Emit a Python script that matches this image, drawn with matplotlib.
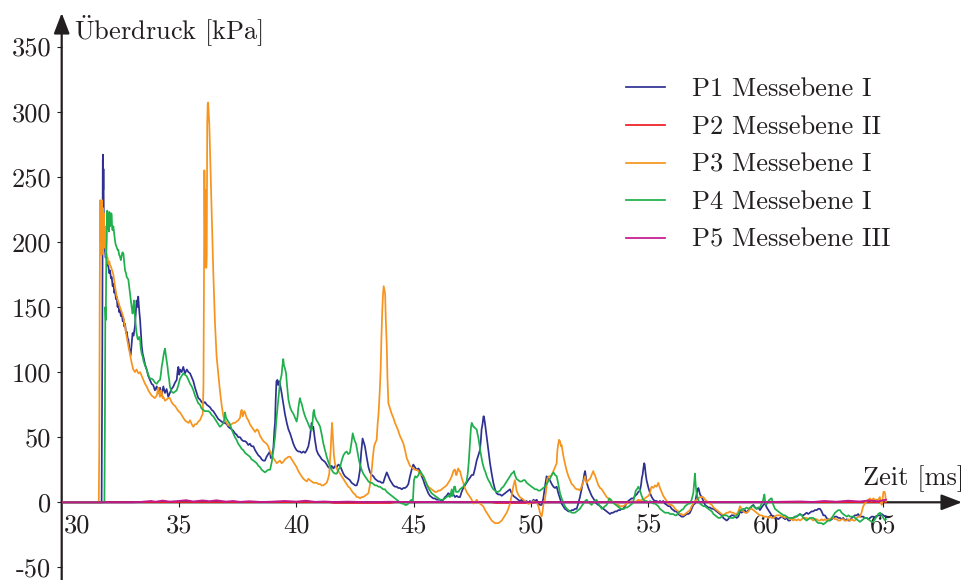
import matplotlib
matplotlib.use("Agg")
import matplotlib.pyplot as plt
from matplotlib.lines import Line2D

plt.rcParams["font.family"] = ["cmr10"]
plt.rcParams["mathtext.fontset"] = "cm"
plt.rcParams["axes.unicode_minus"] = False
plt.rcParams["axes.formatter.use_mathtext"] = True

# ---------------------------------------------------------------- data
# (time in ms, overpressure in kPa)
p1_blue = [
    (30.00, 0), (31.70, 0), (31.73, 120), (31.75, 262), (31.76, 267), (31.77, 240), (31.78, 256),
    (31.80, 205), (31.82, 196), (31.84, 194), (31.87, 188), (31.90, 191), (31.94, 183), (31.99, 181),
    (32.03, 176), (32.06, 178), (32.10, 172), (32.13, 173), (32.17, 166), (32.20, 168), (32.24, 161),
    (32.27, 163), (32.31, 156), (32.34, 158), (32.38, 150), (32.41, 153), (32.45, 146), (32.48, 148),
    (32.52, 143), (32.56, 145), (32.60, 139), (32.63, 141), (32.67, 135), (32.70, 137), (32.74, 130),
    (32.77, 131), (32.81, 126), (32.84, 125), (32.88, 118), (32.94, 113), (32.98, 122), (33.02, 130),
    (33.06, 128), (33.12, 135), (33.16, 146), (33.19, 155), (33.23, 150), (33.26, 158), (33.30, 148),
    (33.34, 140), (33.38, 128), (33.41, 120), (33.45, 114), (33.48, 112), (33.55, 106), (33.62, 102),
    (33.69, 97), (33.76, 94), (33.83, 91), (33.90, 90), (33.97, 86), (34.05, 89), (34.12, 84),
    (34.19, 88), (34.26, 82), (34.33, 89), (34.40, 84), (34.47, 87), (34.54, 81), (34.61, 84),
    (34.68, 87), (34.76, 89), (34.83, 92), (34.90, 94), (34.94, 101), (34.97, 104), (35.01, 98),
    (35.04, 102), (35.11, 100), (35.18, 104), (35.25, 99), (35.33, 102), (35.40, 100), (35.47, 99),
    (35.54, 96), (35.61, 93), (35.68, 88), (35.75, 84), (35.82, 80), (35.89, 79), (35.96, 77),
    (36.03, 76), (36.10, 77), (36.18, 75), (36.25, 74), (36.32, 73), (36.39, 71), (36.46, 70),
    (36.53, 68), (36.60, 66), (36.67, 64), (36.74, 63), (36.81, 62), (36.89, 61), (36.96, 61),
    (37.03, 60), (37.10, 58), (37.17, 57), (37.24, 56), (37.31, 55), (37.38, 53), (37.45, 52),
    (37.52, 50), (37.60, 50), (37.67, 48), (37.74, 47), (37.81, 47), (37.88, 46), (37.95, 44),
    (38.02, 45), (38.09, 43), (38.17, 43), (38.24, 40), (38.31, 38), (38.38, 36), (38.45, 35),
    (38.52, 33), (38.59, 32), (38.66, 32), (38.73, 35), (38.80, 37), (38.87, 39), (38.91, 34),
    (38.95, 35), (39.02, 42), (39.06, 55), (39.09, 61), (39.12, 80), (39.15, 93), (39.19, 94),
    (39.23, 90), (39.27, 93), (39.30, 91), (39.37, 84), (39.44, 76), (39.51, 68), (39.59, 61),
    (39.66, 56), (39.73, 53), (39.80, 49), (39.87, 45), (39.94, 42), (40.01, 40), (40.08, 39),
    (40.15, 39), (40.22, 38), (40.30, 39), (40.37, 38), (40.44, 40), (40.51, 43), (40.58, 50),
    (40.62, 57), (40.65, 61), (40.69, 57), (40.72, 58), (40.79, 48), (40.86, 40), (40.93, 37),
    (41.01, 35), (41.08, 33), (41.15, 32), (41.22, 31), (41.29, 29), (41.36, 27), (41.43, 26),
    (41.50, 28), (41.58, 26), (41.65, 28), (41.72, 27), (41.79, 29), (41.86, 28), (41.93, 25),
    (42.00, 22), (42.07, 20), (42.14, 19), (42.21, 18), (42.28, 17), (42.35, 15), (42.43, 14),
    (42.50, 13), (42.57, 13), (42.64, 17), (42.71, 25), (42.76, 38), (42.82, 49), (42.87, 46),
    (42.92, 43), (43.00, 34), (43.07, 27), (43.14, 23), (43.21, 21), (43.28, 20), (43.35, 18),
    (43.42, 17), (43.49, 16), (43.56, 16), (43.63, 15), (43.70, 15), (43.77, 19), (43.85, 23),
    (43.92, 20), (43.99, 17), (44.06, 15), (44.13, 13), (44.20, 12), (44.27, 12), (44.34, 11),
    (44.41, 11), (44.49, 10), (44.56, 11), (44.63, 11), (44.70, 12), (44.77, 14), (44.84, 20),
    (44.91, 25), (44.98, 29), (45.05, 27), (45.12, 25), (45.20, 26), (45.27, 24), (45.34, 20),
    (45.41, 17), (45.48, 13), (45.55, 10), (45.62, 7), (45.69, 5), (45.76, 4), (45.83, 3),
    (45.90, 3), (45.98, 2), (46.05, 2), (46.12, 2), (46.19, 1), (46.26, 2), (46.33, 4), (46.40, 5),
    (46.47, 7), (46.54, 6), (46.62, 5), (46.69, 6), (46.76, 4), (46.83, 5), (46.90, 4), (46.97, 4),
    (47.04, 8), (47.11, 11), (47.18, 13), (47.25, 15), (47.32, 17), (47.40, 19), (47.47, 21),
    (47.54, 21), (47.61, 26), (47.68, 32), (47.75, 36), (47.82, 40), (47.86, 48), (47.89, 56),
    (47.93, 60), (47.97, 66), (47.99, 66), (48.04, 60), (48.11, 50), (48.18, 40), (48.25, 30),
    (48.32, 22), (48.39, 15), (48.46, 10), (48.53, 7), (48.60, 6), (48.68, 6), (48.75, 5),
    (48.82, 6), (48.89, 7), (48.96, 8), (49.03, 9), (49.10, 10), (49.17, 7), (49.24, 5), (49.31, 4),
    (49.38, 3), (49.45, 2), (49.52, 1), (49.60, 2), (49.67, 1), (49.74, 0), (49.81, 1), (49.88, -1),
    (49.95, 1), (50.02, 0), (50.10, 2), (50.17, 1), (50.24, 2), (50.31, -1), (50.38, -2),
    (50.45, -2), (50.52, 3), (50.59, 12), (50.66, 20), (50.73, 18), (50.80, 17), (50.88, 14),
    (50.95, 12), (51.02, 11), (51.09, 12), (51.16, 7), (51.23, 3), (51.30, -1), (51.37, -3),
    (51.44, -5), (51.52, -6), (51.59, -7), (51.66, -7), (51.73, -6), (51.80, -6), (51.87, -5),
    (51.94, -5), (52.01, -1), (52.08, 4), (52.15, 10), (52.20, 15), (52.23, 17), (52.27, 22),
    (52.30, 24), (52.34, 19), (52.37, 15), (52.44, 11), (52.51, 8), (52.58, 5), (52.65, 3),
    (52.72, 1), (52.79, -1), (52.86, -2), (52.94, -3), (53.01, -4), (53.08, -5), (53.15, -6),
    (53.22, -7), (53.29, -8), (53.36, -9), (53.43, -8), (53.50, -8), (53.57, -7), (53.65, -7),
    (53.72, -6), (53.79, -6), (53.86, -5), (53.93, -5), (54.00, -3), (54.07, -1), (54.14, 1),
    (54.21, 2), (54.28, 3), (54.36, 3), (54.43, 5), (54.50, 6), (54.57, 8), (54.64, 9), (54.69, 14),
    (54.72, 19), (54.75, 21), (54.79, 27), (54.82, 30), (54.84, 29), (54.88, 22), (54.92, 17),
    (55.00, 11), (55.07, 7), (55.14, 4), (55.21, 2), (55.28, 1), (55.35, 1), (55.42, 0), (55.49, 1),
    (55.56, 0), (55.63, 1), (55.70, -1), (55.78, -2), (55.85, -3), (55.92, -3), (55.99, -5),
    (56.06, -6), (56.13, -7), (56.20, -7), (56.27, -9), (56.34, -10), (56.41, -11), (56.49, -11),
    (56.56, -10), (56.63, -9), (56.70, -9), (56.77, -8), (56.84, -5), (56.91, -2), (56.98, -1),
    (57.02, 3), (57.06, 7), (57.10, 10), (57.13, 11), (57.17, 8), (57.20, 6), (57.27, 4), (57.34, 1),
    (57.41, -2), (57.48, -3), (57.55, -4), (57.62, -4), (57.70, -5), (57.77, -5), (57.84, -6),
    (57.91, -7), (57.98, -8), (58.05, -9), (58.12, -10), (58.19, -12), (58.26, -13), (58.33, -14),
    (58.40, -13), (58.47, -11), (58.55, -10), (58.62, -10), (58.69, -11), (58.76, -12), (58.83, -11),
    (58.90, -7), (58.97, -8), (59.04, -7), (59.11, -6), (59.19, -8), (59.26, -6), (59.33, -5),
    (59.40, -3), (59.47, -2), (59.54, -4), (59.61, -5), (59.68, -4), (59.75, -6), (59.82, -4),
    (59.90, -2), (59.97, -1), (60.04, -4), (60.11, -6), (60.18, -8), (60.25, -10), (60.32, -11),
    (60.39, -12), (60.46, -12), (60.53, -13), (60.60, -12), (60.68, -11), (60.75, -12), (60.82, -13),
    (60.89, -12), (60.96, -14), (61.03, -14), (61.10, -12), (61.17, -12), (61.24, -11), (61.31, -11),
    (61.38, -10), (61.46, -9), (61.53, -10), (61.60, -10), (61.67, -9), (61.74, -8), (61.81, -9),
    (61.88, -8), (61.95, -7), (62.02, -7), (62.09, -6), (62.17, -6), (62.24, -5), (62.31, -5),
    (62.38, -7), (62.45, -10), (62.52, -10), (62.59, -12), (62.66, -13), (62.73, -14), (62.81, -13),
    (62.88, -12), (62.95, -11), (63.02, -11), (63.09, -12), (63.16, -12), (63.23, -13), (63.30, -12),
    (63.37, -14), (63.45, -13), (63.52, -14), (63.59, -14), (63.66, -12), (63.73, -11), (63.80, -10),
    (63.87, -10), (63.94, -9), (64.01, -11), (64.08, -11), (64.15, -11), (64.22, -12), (64.30, -12),
    (64.37, -13), (64.44, -12), (64.51, -11), (64.58, -11), (64.65, -12), (64.72, -11), (64.79, -10),
    (64.87, -10), (64.94, -9), (65.01, -10), (65.10, -11),
]

p2_red = [(30.00, 0.0), (41.4, 0.0), (41.6, -0.6), (44.0, -0.6), (44.2, 0.0), (48.3, 0.0),
          (48.5, -0.6), (50.0, -0.6), (50.2, 0.0), (65.12, 0.0)]

p3_orange = [
    (30.00, 0), (31.58, 0), (31.60, 40), (31.62, 160), (31.64, 232), (31.66, 200), (31.68, 230),
    (31.70, 190), (31.72, 232), (31.74, 205), (31.76, 226), (31.78, 195), (31.80, 222), (31.82, 196),
    (31.84, 212), (31.86, 200), (31.89, 190), (31.92, 186), (31.95, 188), (31.99, 183), (32.03, 185),
    (32.06, 182), (32.10, 181), (32.13, 179), (32.17, 177), (32.20, 175), (32.27, 166), (32.34, 158),
    (32.41, 154), (32.48, 150), (32.56, 146), (32.63, 142), (32.70, 135), (32.77, 127), (32.84, 120),
    (32.91, 114), (32.98, 107), (33.05, 102), (33.12, 100), (33.19, 102), (33.27, 99), (33.34, 100),
    (33.41, 97), (33.48, 94), (33.55, 91), (33.62, 89), (33.69, 86), (33.76, 84), (33.83, 82),
    (33.90, 81), (33.97, 80), (34.05, 82), (34.09, 86), (34.12, 88), (34.16, 83), (34.19, 81),
    (34.23, 86), (34.26, 85), (34.30, 80), (34.33, 81), (34.40, 78), (34.47, 79), (34.54, 80),
    (34.61, 80), (34.68, 77), (34.76, 75), (34.83, 74), (34.90, 72), (34.97, 70), (35.04, 69),
    (35.11, 67), (35.18, 65), (35.25, 63), (35.32, 62), (35.40, 61), (35.47, 63), (35.54, 60),
    (35.61, 58), (35.68, 60), (35.75, 60), (35.82, 62), (35.89, 63), (35.96, 66), (36.01, 68),
    (36.04, 90), (36.06, 163), (36.08, 255), (36.10, 200), (36.11, 181), (36.13, 240), (36.15, 200),
    (36.16, 180), (36.18, 190), (36.20, 290), (36.22, 306), (36.24, 307), (36.26, 300), (36.29, 290),
    (36.32, 270), (36.35, 252), (36.40, 214), (36.46, 176), (36.53, 138), (36.60, 112), (36.67, 99),
    (36.74, 86), (36.82, 74), (36.89, 66), (36.96, 63), (37.03, 61), (37.10, 59), (37.17, 59),
    (37.24, 60), (37.31, 61), (37.38, 61), (37.45, 62), (37.52, 63), (37.60, 65), (37.64, 70),
    (37.67, 71), (37.71, 66), (37.74, 68), (37.78, 70), (37.81, 69), (37.88, 65), (37.95, 63),
    (38.02, 60), (38.09, 58), (38.17, 56), (38.24, 54), (38.31, 56), (38.38, 55), (38.45, 51),
    (38.52, 49), (38.59, 47), (38.66, 46), (38.73, 45), (38.80, 43), (38.88, 39), (38.95, 36),
    (39.02, 34), (39.09, 32), (39.16, 30), (39.23, 31), (39.30, 32), (39.37, 30), (39.44, 31),
    (39.51, 33), (39.59, 34), (39.66, 35), (39.73, 35), (39.80, 33), (39.87, 31), (39.94, 29),
    (40.01, 27), (40.08, 24), (40.15, 22), (40.22, 20), (40.30, 18), (40.37, 17), (40.44, 16),
    (40.51, 18), (40.58, 17), (40.65, 16), (40.72, 15), (40.79, 15), (40.86, 15), (40.93, 14),
    (41.01, 14), (41.08, 13), (41.15, 13), (41.22, 14), (41.29, 15), (41.35, 18), (41.40, 22),
    (41.43, 32), (41.46, 40), (41.49, 52), (41.52, 61), (41.55, 52), (41.57, 45), (41.60, 36),
    (41.64, 30), (41.71, 26), (41.79, 24), (41.86, 22), (41.93, 20), (42.00, 18), (42.07, 16),
    (42.14, 14), (42.21, 12), (42.28, 11), (42.35, 9), (42.43, 7), (42.50, 6), (42.57, 4),
    (42.64, 4), (42.71, 3), (42.78, 4), (42.85, 4), (42.92, 5), (43.00, 6), (43.07, 7), (43.14, 14),
    (43.21, 25), (43.26, 35), (43.31, 43), (43.37, 46), (43.42, 48), (43.46, 60), (43.50, 68),
    (43.55, 85), (43.59, 102), (43.62, 125), (43.66, 148), (43.69, 160), (43.72, 166), (43.75, 163),
    (43.78, 160), (43.81, 140), (43.85, 120), (43.88, 95), (43.92, 76), (43.99, 72), (44.06, 68),
    (44.13, 65), (44.20, 61), (44.27, 58), (44.34, 55), (44.41, 51), (44.49, 48), (44.56, 45),
    (44.63, 40), (44.70, 34), (44.77, 31), (44.84, 28), (44.91, 27), (44.98, 26), (45.05, 25),
    (45.12, 25), (45.20, 24), (45.27, 22), (45.34, 21), (45.41, 20), (45.48, 17), (45.55, 14),
    (45.62, 12), (45.69, 11), (45.76, 10), (45.83, 9), (45.90, 8), (45.98, 8), (46.05, 9),
    (46.12, 9), (46.19, 10), (46.26, 11), (46.33, 12), (46.40, 13), (46.47, 15), (46.54, 17),
    (46.62, 20), (46.69, 24), (46.73, 25), (46.76, 25), (46.80, 21), (46.83, 21), (46.87, 25),
    (46.90, 26), (46.94, 24), (46.97, 24), (47.04, 19), (47.11, 15), (47.18, 11), (47.25, 8),
    (47.32, 6), (47.40, 4), (47.47, 2), (47.54, -1), (47.61, 0), (47.68, 2), (47.75, 0), (47.82, -1),
    (47.89, -2), (47.96, -3), (48.04, -6), (48.11, -8), (48.18, -10), (48.25, -12), (48.32, -14),
    (48.39, -15), (48.46, -16), (48.53, -16), (48.60, -16), (48.68, -15), (48.75, -14), (48.82, -12),
    (48.89, -10), (48.96, -8), (49.03, -5), (49.10, -1), (49.17, 5), (49.24, 12), (49.31, 17),
    (49.35, 13), (49.38, 9), (49.45, 6), (49.52, 4), (49.60, 3), (49.67, 2), (49.74, 1), (49.81, 0),
    (49.88, -1), (49.95, -1), (50.02, 0), (50.10, 1), (50.17, 0), (50.24, 0), (50.31, -3),
    (50.38, -8), (50.45, -11), (50.49, -7), (50.52, -2), (50.59, 2), (50.66, 12), (50.69, 18),
    (50.76, 20), (50.83, 20), (50.88, 21), (50.95, 24), (51.02, 27), (51.09, 30), (51.12, 40),
    (51.16, 45), (51.19, 48), (51.23, 47), (51.27, 43), (51.30, 44), (51.37, 36), (51.44, 30),
    (51.52, 24), (51.59, 20), (51.66, 17), (51.73, 14), (51.80, 13), (51.87, 11), (51.94, 10),
    (52.01, 10), (52.08, 9), (52.15, 12), (52.23, 16), (52.30, 20), (52.34, 16), (52.37, 15),
    (52.44, 17), (52.51, 18), (52.58, 21), (52.65, 24), (52.68, 22), (52.72, 21), (52.79, 17),
    (52.87, 13), (52.94, 11), (53.01, 10), (53.08, 8), (53.15, 6), (53.22, 4), (53.29, 3),
    (53.36, 2), (53.43, 1), (53.50, 0), (53.57, -1), (53.65, -2), (53.72, -2), (53.79, -3),
    (53.86, -3), (53.93, -3), (54.00, -2), (54.07, -1), (54.14, 0), (54.21, 0), (54.28, 1),
    (54.36, 0), (54.43, 0), (54.50, 1), (54.57, 2), (54.64, 1), (54.71, 2), (54.78, 2), (54.85, 3),
    (54.92, 4), (55.00, 5), (55.07, 7), (55.11, 11), (55.14, 12), (55.21, 11), (55.28, 13),
    (55.35, 12), (55.42, 15), (55.49, 11), (55.56, 8), (55.63, 5), (55.70, 3), (55.78, 1),
    (55.85, -1), (55.92, -2), (55.99, -2), (56.06, -3), (56.13, -5), (56.20, -6), (56.27, -7),
    (56.34, -9), (56.41, -9), (56.49, -10), (56.56, -9), (56.63, -8), (56.70, -7), (56.77, -6),
    (56.84, -3), (56.91, -1), (56.98, 1), (57.05, 2), (57.13, 3), (57.20, 4), (57.27, 4), (57.34, 4),
    (57.41, 2), (57.48, 1), (57.55, 0), (57.62, -1), (57.70, -2), (57.77, -4), (57.84, -5),
    (57.91, -6), (57.98, -7), (58.05, -8), (58.12, -9), (58.19, -10), (58.26, -9), (58.33, -8),
    (58.40, -8), (58.47, -7), (58.55, -8), (58.62, -8), (58.69, -9), (58.76, -9), (58.83, -7),
    (58.90, -3), (58.97, -5), (59.04, -7), (59.11, -8), (59.18, -8), (59.26, -7), (59.33, -5),
    (59.40, -5), (59.47, -6), (59.54, -7), (59.61, -8), (59.68, -9), (59.75, -10), (59.82, -10),
    (59.90, -11), (59.97, -11), (60.04, -11), (60.11, -12), (60.18, -11), (60.25, -12), (60.32, -12),
    (60.39, -11), (60.46, -10), (60.53, -10), (60.60, -10), (60.68, -11), (60.75, -11), (60.82, -12),
    (60.89, -11), (60.96, -12), (61.03, -13), (61.10, -13), (61.17, -14), (61.24, -13), (61.31, -14),
    (61.38, -13), (61.46, -14), (61.53, -13), (61.60, -12), (61.67, -12), (61.74, -12), (61.81, -13),
    (61.88, -12), (61.95, -13), (62.02, -14), (62.09, -13), (62.17, -13), (62.24, -14), (62.31, -14),
    (62.38, -13), (62.45, -14), (62.52, -13), (62.59, -14), (62.66, -13), (62.73, -13), (62.81, -12),
    (62.88, -12), (62.95, -13), (63.02, -13), (63.09, -14), (63.16, -14), (63.23, -13), (63.30, -13),
    (63.37, -14), (63.45, -14), (63.52, -13), (63.59, -14), (63.66, -13), (63.73, -14), (63.80, -14),
    (63.87, -12), (63.94, -11), (64.01, -11), (64.08, -8), (64.15, -3), (64.22, -1), (64.30, 1),
    (64.37, 2), (64.44, 3), (64.51, 1), (64.58, 3), (64.65, 2), (64.72, 2), (64.79, 2), (64.86, 4),
    (64.90, 0), (64.94, -2), (64.98, 3), (65.01, 8), (65.05, 8), (65.08, 7), (65.12, 1),
]

p4_green = [
    (30.00, 0), (31.82, 0), (31.84, 60), (31.86, 150), (31.88, 140), (31.90, 190), (31.92, 202),
    (31.94, 224), (31.96, 210), (31.99, 217), (32.01, 208), (32.03, 223), (32.06, 212), (32.09, 214),
    (32.11, 222), (32.13, 221), (32.15, 210), (32.17, 209), (32.20, 212), (32.23, 207), (32.27, 201),
    (32.30, 198), (32.34, 196), (32.38, 194), (32.41, 194), (32.45, 190), (32.48, 189), (32.52, 186),
    (32.56, 190), (32.59, 192), (32.63, 191), (32.66, 185), (32.70, 178), (32.74, 176), (32.77, 173),
    (32.81, 172), (32.84, 171), (32.88, 165), (32.91, 160), (32.95, 155), (32.98, 150), (33.02, 145),
    (33.05, 150), (33.08, 155), (33.10, 148), (33.12, 143), (33.16, 135), (33.19, 130), (33.23, 126),
    (33.26, 125), (33.30, 127), (33.34, 125), (33.37, 118), (33.41, 114), (33.45, 112), (33.48, 109),
    (33.55, 105), (33.62, 102), (33.69, 98), (33.76, 95), (33.83, 95), (33.90, 94), (33.97, 92),
    (34.05, 91), (34.12, 93), (34.19, 94), (34.23, 99), (34.26, 104), (34.30, 108), (34.33, 112),
    (34.37, 116), (34.40, 118), (34.43, 114), (34.47, 109), (34.51, 104), (34.54, 99), (34.58, 94),
    (34.61, 89), (34.68, 85), (34.76, 84), (34.83, 85), (34.90, 86), (34.97, 90), (35.04, 95),
    (35.11, 97), (35.18, 99), (35.25, 98), (35.32, 97), (35.40, 94), (35.47, 91), (35.54, 89),
    (35.61, 86), (35.68, 82), (35.75, 79), (35.82, 76), (35.89, 75), (35.96, 72), (36.03, 71),
    (36.10, 70), (36.18, 70), (36.25, 70), (36.32, 69), (36.39, 67), (36.46, 66), (36.53, 64),
    (36.60, 62), (36.67, 60), (36.74, 58), (36.81, 59), (36.89, 61), (36.93, 64), (36.96, 69),
    (37.00, 65), (37.03, 64), (37.10, 62), (37.17, 60), (37.24, 56), (37.31, 53), (37.38, 50),
    (37.45, 48), (37.52, 45), (37.60, 43), (37.67, 41), (37.74, 40), (37.81, 38), (37.88, 37),
    (37.95, 36), (38.02, 35), (38.09, 33), (38.17, 32), (38.24, 31), (38.31, 30), (38.38, 28),
    (38.45, 27), (38.52, 25), (38.59, 24), (38.66, 23), (38.73, 24), (38.80, 25), (38.88, 25),
    (38.95, 31), (39.02, 40), (39.09, 50), (39.16, 66), (39.23, 79), (39.30, 92), (39.37, 98),
    (39.40, 104), (39.44, 110), (39.47, 105), (39.51, 103), (39.56, 99), (39.61, 88), (39.66, 79),
    (39.73, 73), (39.80, 70), (39.87, 68), (39.94, 65), (40.01, 62), (40.05, 66), (40.08, 72),
    (40.12, 77), (40.15, 80), (40.19, 77), (40.22, 76), (40.30, 70), (40.37, 66), (40.44, 63),
    (40.51, 60), (40.58, 57), (40.65, 55), (40.69, 62), (40.72, 69), (40.75, 71), (40.79, 66),
    (40.86, 63), (40.93, 61), (41.01, 58), (41.08, 52), (41.15, 45), (41.22, 40), (41.29, 35),
    (41.36, 31), (41.43, 28), (41.50, 25), (41.57, 23), (41.65, 22), (41.72, 22), (41.79, 25),
    (41.86, 27), (41.93, 32), (42.00, 36), (42.07, 38), (42.14, 39), (42.21, 37), (42.28, 38),
    (42.34, 45), (42.40, 53), (42.47, 48), (42.54, 45), (42.61, 38), (42.67, 32), (42.71, 29),
    (42.78, 25), (42.85, 22), (42.92, 20), (43.00, 18), (43.07, 16), (43.14, 15), (43.21, 15),
    (43.28, 14), (43.35, 13), (43.42, 13), (43.49, 12), (43.56, 12), (43.63, 11), (43.70, 10),
    (43.77, 10), (43.85, 8), (43.92, 7), (43.99, 6), (44.06, 5), (44.13, 4), (44.20, 3), (44.27, 2),
    (44.34, 1), (44.41, 0), (44.49, -1), (44.56, -1), (44.63, -2), (44.70, -2), (44.77, -1),
    (44.84, 1), (44.91, 2), (44.96, 0), (45.01, 17), (45.06, 20), (45.12, 19), (45.20, 21),
    (45.27, 24), (45.34, 22), (45.41, 20), (45.48, 17), (45.55, 14), (45.62, 11), (45.69, 9),
    (45.76, 7), (45.83, 6), (45.90, 5), (45.98, 4), (46.05, 3), (46.12, 2), (46.19, 2), (46.26, 2),
    (46.33, 3), (46.40, 4), (46.47, 5), (46.54, 4), (46.58, 7), (46.62, 10), (46.65, 5), (46.69, 7),
    (46.72, 12), (46.76, 12), (46.80, 8), (46.83, 8), (46.90, 8), (46.97, 10), (47.04, 11),
    (47.11, 12), (47.18, 14), (47.25, 16), (47.30, 22), (47.34, 30), (47.38, 42), (47.41, 50),
    (47.44, 58), (47.47, 61), (47.50, 60), (47.54, 58), (47.57, 58), (47.61, 57), (47.68, 56),
    (47.71, 53), (47.75, 50), (47.80, 44), (47.85, 38), (47.92, 31), (47.99, 26), (48.04, 24),
    (48.11, 20), (48.18, 17), (48.25, 15), (48.32, 12), (48.39, 10), (48.46, 9), (48.53, 8),
    (48.60, 8), (48.68, 9), (48.75, 11), (48.82, 12), (48.89, 14), (48.96, 16), (49.03, 18),
    (49.10, 20), (49.17, 22), (49.24, 23), (49.27, 24), (49.31, 21), (49.38, 18), (49.45, 17),
    (49.52, 16), (49.60, 16), (49.67, 17), (49.74, 17), (49.81, 15), (49.88, 14), (49.95, 13),
    (50.02, 12), (50.10, 11), (50.17, 10), (50.24, 10), (50.31, 9), (50.38, 9), (50.45, 10),
    (50.52, 11), (50.59, 12), (50.66, 14), (50.73, 16), (50.80, 18), (50.88, 21), (50.95, 23),
    (51.02, 21), (51.09, 20), (51.16, 14), (51.23, 7), (51.30, 3), (51.37, 0), (51.44, -3),
    (51.52, -5), (51.59, -6), (51.66, -7), (51.73, -8), (51.80, -8), (51.87, -8), (51.94, -7),
    (52.01, -6), (52.08, -5), (52.15, -3), (52.23, -1), (52.30, 1), (52.37, 2), (52.44, 0),
    (52.51, -1), (52.58, -2), (52.65, 0), (52.72, 1), (52.79, 2), (52.86, -1), (52.94, -3),
    (53.01, -5), (53.08, -4), (53.15, -3), (53.22, -2), (53.29, 1), (53.33, 3), (53.40, 2),
    (53.47, 0), (53.54, -1), (53.61, -2), (53.68, -3), (53.75, -4), (53.82, -5), (53.89, -5),
    (53.96, -5), (54.03, -4), (54.10, -4), (54.17, -3), (54.24, -2), (54.31, -1), (54.36, 1),
    (54.41, 5), (54.46, 9), (54.51, 10), (54.57, 12), (54.64, 9), (54.71, 5), (54.78, 2), (54.85, 1),
    (54.92, 1), (55.00, 0), (55.07, 1), (55.14, 0), (55.21, -1), (55.28, -1), (55.35, -2),
    (55.42, -3), (55.49, -5), (55.56, -6), (55.63, -7), (55.70, -8), (55.78, -8), (55.85, -8),
    (55.92, -9), (55.99, -9), (56.06, -9), (56.13, -10), (56.20, -10), (56.27, -8), (56.34, -7),
    (56.41, -6), (56.49, -5), (56.56, -3), (56.63, -2), (56.70, -1), (56.77, -1), (56.84, 2),
    (56.91, 7), (56.95, 15), (56.98, 22), (57.01, 14), (57.05, 7), (57.12, 2), (57.20, -1),
    (57.27, -2), (57.34, -3), (57.41, -3), (57.48, -4), (57.55, -5), (57.62, -6), (57.70, -7),
    (57.77, -9), (57.84, -10), (57.91, -11), (57.98, -12), (58.05, -12), (58.12, -11), (58.19, -10),
    (58.26, -10), (58.33, -10), (58.40, -11), (58.47, -12), (58.55, -12), (58.62, -12), (58.69, -11),
    (58.76, -10), (58.83, -9), (58.90, -6), (58.97, -6), (59.04, -5), (59.11, -5), (59.18, -4),
    (59.26, -5), (59.33, -4), (59.40, -3), (59.47, -3), (59.54, -4), (59.61, -5), (59.68, -4),
    (59.75, -4), (59.82, -1), (59.89, 2), (59.92, 5), (59.94, 6), (59.97, 1), (60.01, -2),
    (60.08, 0), (60.15, 2), (60.18, 2), (60.22, 3), (60.25, 3), (60.32, -2), (60.39, -5),
    (60.46, -6), (60.53, -7), (60.60, -8), (60.68, -9), (60.75, -10), (60.82, -10), (60.89, -11),
    (60.96, -12), (61.03, -12), (61.10, -12), (61.17, -12), (61.24, -11), (61.31, -11), (61.38, -10),
    (61.46, -9), (61.53, -10), (61.60, -12), (61.67, -13), (61.74, -14), (61.81, -13), (61.88, -12),
    (61.95, -12), (62.02, -12), (62.09, -13), (62.17, -15), (62.24, -16), (62.31, -16), (62.38, -16),
    (62.45, -17), (62.52, -16), (62.59, -15), (62.66, -14), (62.73, -14), (62.81, -12), (62.88, -10),
    (62.95, -8), (63.02, -7), (63.09, -6), (63.16, -6), (63.23, -8), (63.30, -9), (63.37, -10),
    (63.45, -11), (63.52, -10), (63.59, -11), (63.66, -11), (63.73, -11), (63.80, -12), (63.87, -13),
    (63.94, -14), (64.01, -15), (64.08, -14), (64.15, -13), (64.22, -12), (64.30, -12), (64.37, -13),
    (64.44, -14), (64.51, -15), (64.58, -15), (64.65, -13), (64.72, -11), (64.79, -9), (64.87, -8),
    (64.94, -10), (65.01, -12), (65.08, -14), (65.12, -13),
]

p5_magenta = [
    (30.00, 0), (33.0, 0), (33.4, 0.3), (33.8, 1.0), (34.0, 0.4), (34.3, 1.3), (34.6, 0.5),
    (35.0, 1.0), (35.3, 1.6), (35.6, 0.6), (36.0, 1.4), (36.3, 0.8), (36.6, 1.5), (37.0, 0.5),
    (37.3, 1.0), (37.6, 0.3), (38.0, 0.8), (38.5, 0.2), (39.0, 0.5), (39.5, 1.0), (40.0, 0.5),
    (40.4, 1.2), (40.8, 0.3), (41.2, 0.6), (41.6, 0.2), (42.2, 0.5), (43.0, 0.1), (44.0, 0.4),
    (45.0, 0.1), (46.0, 0.3), (47.0, 0.1), (48.0, 0.2), (50.0, 0.0), (55.0, 0.1), (60.0, 0.2),
    (61.5, 0.6), (62.0, 0.2), (62.5, 1.0), (63.0, 0.4), (63.5, 1.2), (64.0, 0.6), (64.4, 1.4),
    (64.8, 0.8), (65.12, 2.0),
]

series_labels = ["P1 Messebene I", "P2 Messebene II", "P3 Messebene I",
                 "P4 Messebene I", "P5 Messebene III"]
series_colors = ["#2e3192", "#ed1c24", "#f7941d", "#1fb04b", "#c2188e"]
series_widths = [1.25, 1.0, 1.25, 1.25, 1.35]
series_data = [p1_blue, p2_red, p3_orange, p4_green, p5_magenta]

x_ticks = [35, 40, 45, 50, 55, 60, 65]
y_ticks = [-50, 0, 50, 100, 150, 200, 250, 300, 350]
y_tick_labels = ["-50", "0", "50", "100", "150", "200", "250", "300", "350"]

# ---------------------------------------------------------------- layout
W, H = 965, 580
INK = "#231f20"
FS = 19

fig = plt.figure(figsize=(W / 100, H / 100), dpi=100)
fig.patch.set_facecolor("white")

# axes span the full canvas right of the y axis; limits chosen so that the
# origin (30 ms, 0 kPa) sits at pixel (61.7, 502.3)
x0_px, y0_px = 61.7, 502.3
px_per_ms, px_per_kpa = 23.47, 1.302
ax = fig.add_axes([x0_px / W, 0, 1 - x0_px / W, 1])
ax.set_xlim(30, 30 + (W - x0_px) / px_per_ms)
ax.set_ylim(-(H - y0_px) / px_per_kpa, y0_px / px_per_kpa)
ax.patch.set_alpha(0)

for data, color, lw in zip(series_data, series_colors, series_widths):
    t = [p[0] for p in data]
    v = [p[1] for p in data]
    ax.plot(t, v, color=color, lw=lw, zorder=3, solid_joinstyle="round")

# axes with arrow heads
x_end = 30 + (962 - x0_px) / px_per_ms
y_end = (y0_px - 13) / px_per_kpa
arrow = dict(arrowstyle="-|>,head_length=1.25,head_width=0.48", lw=1.6,
             color=INK, shrinkA=0, shrinkB=0)
ax.annotate("", xy=(x_end, 0), xytext=(30, 0), arrowprops=arrow,
            annotation_clip=False, zorder=1)
ax.annotate("", xy=(30, y_end), xytext=(30, ax.get_ylim()[0]), arrowprops=arrow,
            annotation_clip=False, zorder=1)

for s in ax.spines.values():
    s.set_visible(False)
ax.spines["bottom"].set_position(("data", 0))

ax.set_xticks(x_ticks)
ax.set_xticklabels([str(v) for v in x_ticks])
ax.set_yticks(y_ticks)
ax.set_yticklabels(y_tick_labels)
ax.tick_params(axis="both", direction="out", length=3.6, width=0.8, color=INK,
               labelsize=FS, labelcolor=INK)
ax.tick_params(axis="x", pad=4.5)
ax.tick_params(axis="y", pad=4.0)

# first x label sits just right of the vertical axis
ax.annotate("30", xy=(30, 0), xytext=(11.4, -(3.6 + 4.5)), textcoords="offset points",
            ha="center", va="top", fontsize=FS, color=INK)

fig.text(74 / W, 1 - 39 / H, r"$\ddot{\mathrm{U}}$berdruck [kPa]", fontsize=FS,
         color=INK, ha="left", va="baseline")
fig.text(863 / W, 1 - 485 / H, "Zeit [ms]", fontsize=FS, color=INK,
         ha="left", va="baseline")

# legend
row0, row_step = 87.3, 37.67
for i, (label, color) in enumerate(zip(series_labels, series_colors)):
    y = row0 + i * row_step
    fig.add_artist(Line2D([626 / W, 665 / W], [1 - y / H, 1 - y / H],
                          transform=fig.transFigure, color=color, lw=1.25))
    fig.text(692 / W, 1 - (y + 8.8) / H, label, fontsize=FS, color=INK,
             ha="left", va="baseline")

fig.savefig("out.png", dpi=100, facecolor="white")
